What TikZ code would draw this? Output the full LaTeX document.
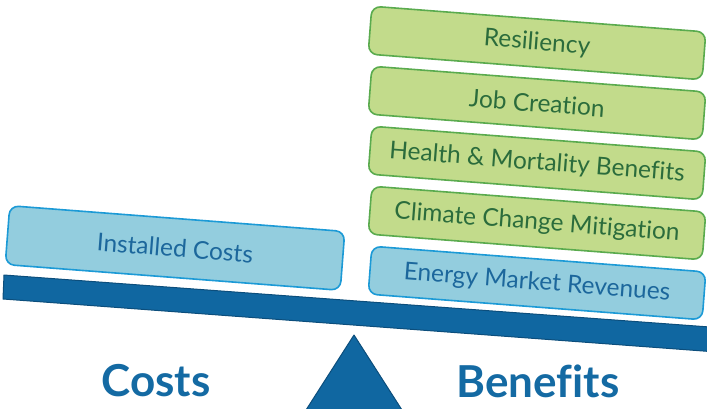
\documentclass[tikz,border=0pt]{standalone}
\usepackage{fontspec}
\setmainfont[Ligatures=NoCommon]{Lato}
\definecolor{beamblue}{HTML}{1067A1}
\definecolor{beamedge}{HTML}{0C4E7C}
\definecolor{costfill}{HTML}{93CDDE}
\definecolor{costedge}{HTML}{1C9AD6}
\definecolor{costtext}{HTML}{1C679C}
\definecolor{gainfill}{HTML}{C2DB8B}
\definecolor{gainedge}{HTML}{5AAB4E}
\definecolor{gaintext}{HTML}{2B6C3C}
\definecolor{headblue}{HTML}{146AA3}
\tikzset{
  tilt/.style={rotate=-4.4, transform shape},
  bluebox/.style={tilt, draw=costedge, fill=costfill, line width=1.6pt,
    rounded corners=9pt, minimum width=335pt, minimum height=48pt,
    text=costtext, font=\fontsize{24.5}{24.5}\selectfont, inner sep=0pt},
  greenbox/.style={bluebox, draw=gainedge, fill=gainfill, text=gaintext},
  heading/.style={text=headblue, font=\fontsize{44}{44}\selectfont\bfseries, inner sep=0pt}
}
\begin{document}
\begin{tikzpicture}[x=1pt, y=-1pt]
  \useasboundingbox (0,0) rectangle (707,409);
  \clip (0,0) rectangle (707,409);
  % lever beam and fulcrum
  \draw[fill=beamblue, draw=beamedge, line width=1pt, line join=round]
    (4,275) -- (730,328.5) -- (730,353) -- (3,299) -- cycle;
  \draw[fill=beamblue, draw=beamedge, line width=1pt, line join=round]
    (354,335) -- (402,410) -- (306,410) -- cycle;
  % cost side
  \node[bluebox, minimum height=59pt, minimum width=336pt] (installed) at (175,248) {Installed Costs};
  % benefit stack
  \node[greenbox] (resil)   at (537,43)  {Resiliency};
  \node[greenbox] (jobs)    at (537,103) {Job Creation};
  \node[greenbox] (health)  at (537,163) {Health \& Mortality Benefits};
  \node[greenbox] (climate) at (537,223) {Climate Change Mitigation};
  \node[bluebox]  (market)  at (537,283) {Energy Market Revenues};
  % side labels
  \node[heading] (costs)    at (156,381) {Costs};
  \node[heading] (benefits) at (538,381) {Benefits};
\end{tikzpicture}
\end{document}
